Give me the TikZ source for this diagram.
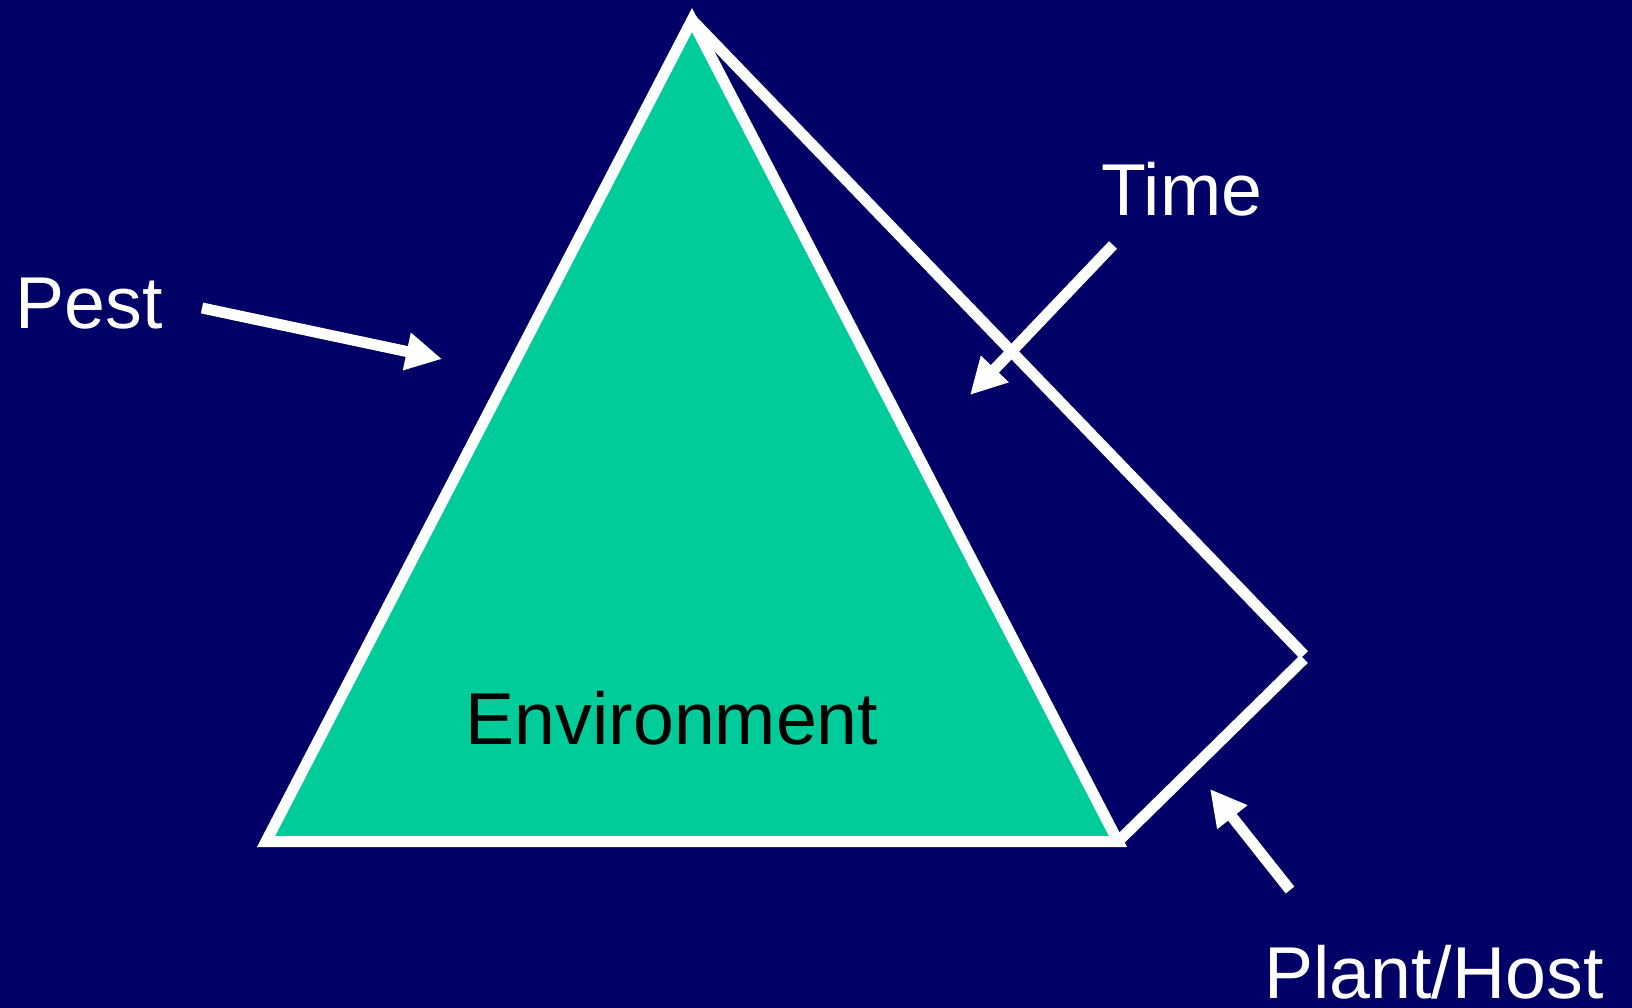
\documentclass[tikz,border=0pt]{standalone}
\usepackage{fontspec}
\setmainfont{Liberation Sans}
\usetikzlibrary{arrows.meta}
\definecolor{slidenavy}{RGB}{0,0,102}
\definecolor{slidegreen}{RGB}{0,204,153}

\begin{document}
\begin{tikzpicture}[x=1pt, y=-1pt,
    factor/.style={inner sep=0pt, anchor=base, text=white, font=\fontsize{73.5}{88}\selectfont},
    pointer/.style={white, line width=11pt, -{Triangle[length=36pt, width=36pt]}},
    rim/.style={white, line width=11pt}]
  \fill[slidenavy] (0,0) rectangle (1632,1008);

  % triangle corners and the corner of the time frame
  \coordinate (apex) at (692,20);
  \coordinate (left) at (266,841.5);
  \coordinate (right) at (1118,841.5);
  \coordinate (bend) at (1304,655);
  \coordinate (bend2) at (1304,659);

  \filldraw[fill=slidegreen, draw=white, line width=11pt]
    (apex) -- (left) -- (right) -- cycle;

  \draw[rim] (apex) -- (bend);
  \draw[rim] (bend2) -- (right);

  % labels
  \node[factor] (pest) at (89,328) {Pest};
  \node[factor] (time) at (1182,216) {Time};
  \node[factor] (host) at (1434,998) {Plant/Host};
  \node[factor, text=black] (env) at (672,744) {Environment};

  % pointers
  \coordinate (pestfrom) at (202,308);
  \coordinate (pestto) at (442,359);
  \coordinate (timefrom) at (1113,245);
  \coordinate (timeto) at (970,395);
  \coordinate (hostfrom) at (1290,890);
  \coordinate (hostto) at (1210,789);

  \draw[pointer] (pestfrom) -- (pestto);
  \draw[pointer] (timefrom) -- (timeto);
  \draw[pointer] (hostfrom) -- (hostto);
\end{tikzpicture}
\end{document}
